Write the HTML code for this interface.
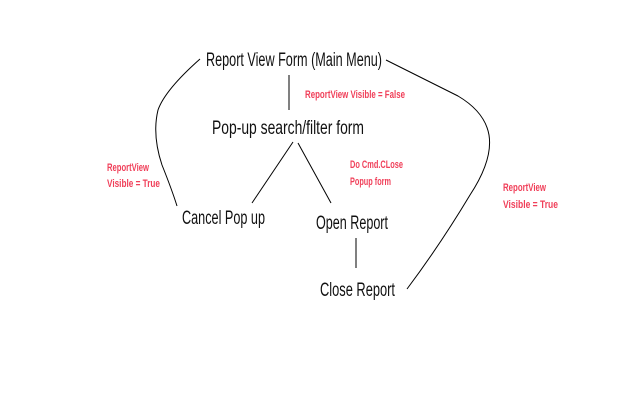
<!DOCTYPE html>
<html><head><style>body{margin:0;background:#fff}svg{display:block}text{font-family:"Liberation Sans Narrow","Liberation Sans",sans-serif}</style></head><body>
<svg width="640" height="400" viewBox="0 0 640 400" xmlns="http://www.w3.org/2000/svg">
<g fill="none" stroke="#000" stroke-width="1">
<path d="M200,59 Q165,90 158,110 Q152,135 162,165 Q172,190 177,206"/>
<path d="M386,60 L458,96 Q485,112 489,135 Q493,160 470,195 Q440,245 407,289"/>
<line x1="289" y1="75" x2="289" y2="110"/>
<line x1="293" y1="142" x2="252" y2="203"/>
<line x1="298" y1="143" x2="331" y2="203"/>
<line x1="356" y1="238" x2="356" y2="268"/>
</g>
<g fill="#111" font-size="19">
<text x="206" y="66" textLength="176" lengthAdjust="spacingAndGlyphs">Report View Form (Main Menu)</text>
<text x="212" y="134" textLength="152" lengthAdjust="spacingAndGlyphs">Pop-up search/filter form</text>
<text x="182" y="224" textLength="83" lengthAdjust="spacingAndGlyphs">Cancel Pop up</text>
<text x="316" y="229" textLength="72" lengthAdjust="spacingAndGlyphs">Open Report</text>
<text x="320" y="296" textLength="75" lengthAdjust="spacingAndGlyphs">Close Report</text>
</g>
<g fill="#f0405a" font-size="11" font-weight="bold">
<text x="305" y="98" textLength="100" lengthAdjust="spacingAndGlyphs">ReportView Visible = False</text>
<text x="350" y="168" textLength="53" lengthAdjust="spacingAndGlyphs">Do Cmd.CLose</text>
<text x="350" y="185" textLength="41" lengthAdjust="spacingAndGlyphs">Popup form</text>
<text x="107" y="171" textLength="42" lengthAdjust="spacingAndGlyphs">ReportView</text>
<text x="107" y="187" textLength="53" lengthAdjust="spacingAndGlyphs">Visible = True</text>
<text x="503" y="191" textLength="43" lengthAdjust="spacingAndGlyphs">ReportView</text>
<text x="503" y="208" textLength="55" lengthAdjust="spacingAndGlyphs">Visible = True</text>
</g>
</svg>
</body></html>
